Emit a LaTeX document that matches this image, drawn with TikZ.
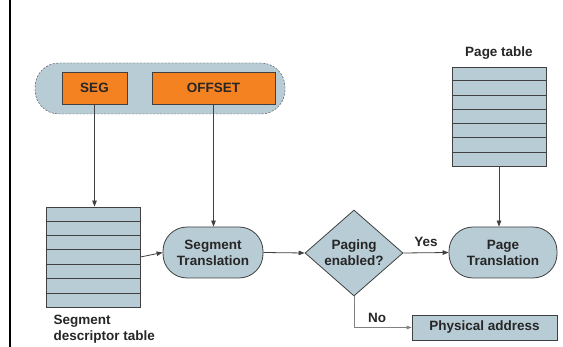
\documentclass[tikz,border=0pt]{standalone}
\usepackage{fontspec}
\setmainfont{Liberation Sans}
\usetikzlibrary{shapes.geometric, arrows.meta, positioning, calc}
\definecolor{tablegray}{RGB}{184, 204, 213}
\definecolor{segorange}{RGB}{245, 130, 32}
\definecolor{edgegray}{RGB}{64, 64, 64}

\begin{document}
\begin{tikzpicture}[x=1pt, y=-1pt,
  every node/.style={font=\fontsize{13.5}{16}\selectfont\bfseries, text=black!85},
  field/.style={draw=edgegray, fill=segorange, line width=0.8pt, minimum height=32pt, inner sep=0pt},
  tablebox/.style={draw=edgegray, fill=tablegray, line width=0.8pt, minimum width=94pt, inner sep=0pt},
  stage/.style={draw=edgegray, fill=tablegray, line width=0.8pt, rounded corners=24pt, minimum width=100pt, minimum height=51pt, align=center, inner sep=0pt},
  link/.style={draw=edgegray, line width=0.8pt, -{Triangle[length=6pt, width=4.5pt]}}
]
  \useasboundingbox (0,0) rectangle (563,347);

  % left margin bar
  \draw[line width=2pt] (10,0) -- (10,347);

  % logical address: selector + offset
  \node[draw=edgegray, dash pattern=on 2pt off 1.5pt, fill=tablegray, rounded corners=24pt, minimum width=250pt, minimum height=51pt] (logaddr) at (160, 88.5) {};
  \node[field, minimum width=65pt] (seg) at (94.5, 88) {SEG};
  \node[field, minimum width=123pt] (offset) at (213.5, 88) {OFFSET};

  % segment descriptor table
  \node[tablebox, minimum height=100pt] (segtab) at (93, 257) {};
  \foreach \i in {1,...,6}
    \draw[edgegray, line width=0.8pt] ($(segtab.north west)!\i/7!(segtab.south west)$) -- ($(segtab.north east)!\i/7!(segtab.south east)$);
  \node[anchor=west, align=left] (segtablbl) at (50, 329.5) {Segment\\descriptor table};

  % page table
  \node[tablebox, minimum height=99pt] (pagetab) at (499, 116.5) {};
  \foreach \i in {1,...,6}
    \draw[edgegray, line width=0.8pt] ($(pagetab.north west)!\i/7!(pagetab.south west)$) -- ($(pagetab.north east)!\i/7!(pagetab.south east)$);
  \node (pagetablbl) at (499, 53) {Page table};

  % translation steps
  \node[stage] (segtrans) at (213, 252.5) {Segment\\Translation};
  \node[diamond, draw=edgegray, fill=tablegray, line width=0.8pt, minimum width=98pt, minimum height=86pt, inner sep=0pt, align=center] (paging) at (354, 253) {Paging\\enabled?};
  \node[stage, minimum width=108pt] (pagetrans) at (503, 252.5) {Page\\Translation};
  \node[draw=edgegray, fill=tablegray, line width=0.8pt, minimum width=145pt, minimum height=25pt, inner sep=0pt] (phys) at (484.5, 327.5) {Physical address};

  % connectors
  \draw[link] (seg.south) -- (seg.south |- segtab.north);
  \draw[link] (offset.south) -- (offset.south |- segtrans.north);
  \draw[link] (segtab.east) -- (segtrans.west);
  \draw[link] (segtrans.east) -- (paging.west);
  \draw[link] (paging.east) -- node[above=2pt] (yes) {Yes} (pagetrans.west);
  \draw[link] (pagetab.south) -- (pagetab.south |- pagetrans.north);
  \draw[draw=gray, line width=0.5pt, -{Triangle[length=5pt, width=3.5pt]}] (paging.south) |- node[pos=0.7, above=1pt] (no) {No} (phys.west);
\end{tikzpicture}
\end{document}
